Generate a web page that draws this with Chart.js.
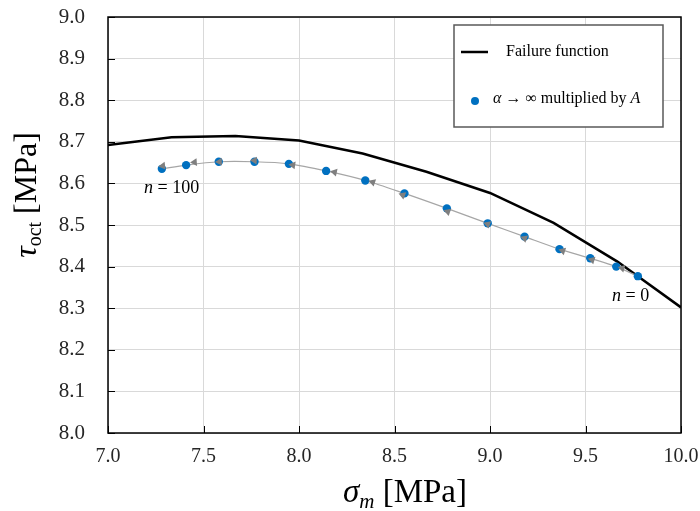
<!DOCTYPE html>
<html>
<head>
<meta charset="utf-8">
<script src="https://cdn.jsdelivr.net/npm/chart.js@4"></script>
<style>
  html, body { margin: 0; padding: 0; background: #fff; }
</style>
</head>
<body>
<canvas id="myChart" width="700" height="511"></canvas>
<script>
    // failure function (black curve)
    const failX = [7.0, 7.333, 7.667, 8.0, 8.333, 8.667, 9.0, 9.333, 9.667, 10.0]
    const failY = [8.692, 8.711, 8.714, 8.703, 8.672, 8.628, 8.577, 8.505, 8.412, 8.302]

    // alpha -> inf multiplied by A (blue points, n = 100 ... n = 0)
    const ptX = [7.282, 7.409, 7.580, 7.767, 7.947, 8.142, 8.347, 8.552, 8.774, 8.988, 9.181, 9.364, 9.525, 9.661, 9.774]
    const ptY = [8.635, 8.644, 8.652, 8.652, 8.647, 8.630, 8.607, 8.576, 8.540, 8.504, 8.472, 8.442, 8.420, 8.400, 8.377]

    // gray arrow heads along the path
    const arrX = [7.287, 7.453, 7.584, 7.767, 7.968, 8.186, 8.386, 8.543, 8.779, 8.988, 9.181, 9.381, 9.535, 9.692]
    const arrY = [8.642, 8.651, 8.652, 8.655, 8.644, 8.627, 8.603, 8.572, 8.532, 8.502, 8.468, 8.438, 8.416, 8.396]

    const xMin = 7, xMax = 10, xStep = 0.5
    const yMin = 8, yMax = 9, yStep = 0.1

    const serif = "'Liberation Serif', 'DejaVu Serif', serif"
    const toXY = (xs, ys) => xs.map((v, i) => ({x: v, y: ys[i]}))

    // arrow heads point along the path, toward n = 100 (left)
    function arrowRotation(c) {
      const i = c.dataIndex
      const sx = c.chart.scales.x, sy = c.chart.scales.y
      const a = Math.max(i - 1, 0), b = Math.min(i + 1, arrX.length - 1)
      const dx = sx.getPixelForValue(arrX[a]) - sx.getPixelForValue(arrX[b])
      const dy = sy.getPixelForValue(arrY[a]) - sy.getPixelForValue(arrY[b])
      return Math.atan2(dy, dx) * 180 / Math.PI + 90
    }

    function drawParts(ctx, parts, x, y) {
      // parts: [text, font, dy]
      let cx = x
      parts.forEach(p => {
        ctx.font = p[1]
        ctx.fillText(p[0], cx, y + (p[2] || 0))
        cx += ctx.measureText(p[0]).width
      })
      return cx - x
    }
    function partsWidth(ctx, parts) {
      let w = 0
      parts.forEach(p => { ctx.font = p[1]; w += ctx.measureText(p[0]).width })
      return w
    }

    const decor = {
      id: 'decor',
      afterDraw(chart) {
        const ctx = chart.ctx
        const a = chart.chartArea
        const sx = chart.scales.x, sy = chart.scales.y
        ctx.save()

        // frame
        ctx.strokeStyle = '#000'
        ctx.lineWidth = 1.5
        ctx.strokeRect(a.left, a.top, a.right - a.left, a.bottom - a.top)

        // inner tick marks
        ctx.lineWidth = 1
        ctx.beginPath()
        sy.ticks.forEach(t => {
          const py = Math.round(sy.getPixelForValue(t.value)) + 0.5
          ctx.moveTo(a.left, py); ctx.lineTo(a.left + 7, py)
        })
        sx.ticks.forEach(t => {
          const px = Math.round(sx.getPixelForValue(t.value)) + 0.5
          ctx.moveTo(px, a.bottom); ctx.lineTo(px, a.bottom - 7)
        })
        ctx.stroke()

        // legend box
        ctx.fillStyle = '#fff'
        ctx.fillRect(454, 25, 209, 102)
        ctx.strokeStyle = '#595959'
        ctx.lineWidth = 1.5
        ctx.strokeRect(454, 25, 209, 102)
        ctx.strokeStyle = '#000'
        ctx.lineWidth = 2.5
        ctx.beginPath(); ctx.moveTo(461, 52); ctx.lineTo(488, 52); ctx.stroke()
        ctx.fillStyle = '#0070C0'
        ctx.beginPath(); ctx.arc(475, 101, 4, 0, Math.PI * 2); ctx.fill()
        ctx.fillStyle = '#000'
        ctx.textBaseline = 'middle'
        ctx.textAlign = 'left'
        drawParts(ctx, [['Failure function', '16px ' + serif]], 506, 52)
        drawParts(ctx, [
          ['α', 'italic 16px ' + serif],
          [' → ∞ multiplied by ', '16px ' + serif],
          ['A', 'italic 16px ' + serif]
        ], 493, 99)

        // n labels
        drawParts(ctx, [['n', 'italic 18px ' + serif], [' = 100', '18px ' + serif]], 144, 188)
        drawParts(ctx, [['n', 'italic 18px ' + serif], [' = 0', '18px ' + serif]], 612, 296)

        // x title
        const xt = [
          ['σ', 'italic 33px ' + serif],
          ['m', 'italic 21px ' + serif, 9],
          [' [MPa]', '33px ' + serif]
        ]
        const xw = partsWidth(ctx, xt)
        drawParts(ctx, xt, 405 - xw / 2, 493)

        // y title
        const yt = [
          ['τ', 'italic 32px ' + serif],
          ['oct', '20px ' + serif, 8],
          [' [MPa]', '32px ' + serif]
        ]
        const yw = partsWidth(ctx, yt)
        ctx.translate(28, 195)
        ctx.rotate(-Math.PI / 2)
        drawParts(ctx, yt, -yw / 2, 0)

        ctx.restore()
      }
    }

    const config = {
      type: 'scatter',
      data: {
        datasets: [
          {
            label: 'arrows',
            data: toXY(arrX, arrY),
            showLine: false,
            pointStyle: 'triangle',
            pointRadius: 4.5,
            pointRotation: arrowRotation,
            backgroundColor: '#7f7f7f',
            borderColor: '#7f7f7f',
            borderWidth: 0
          },
          {
            label: 'α → ∞ multiplied by A',
            data: toXY(ptX, ptY),
            showLine: false,
            pointRadius: 4.2,
            backgroundColor: '#0070C0',
            borderColor: '#0070C0',
            borderWidth: 0
          },
          {
            label: 'path',
            data: toXY(ptX, ptY),
            showLine: true,
            tension: 0.3,
            pointRadius: 0,
            borderColor: '#a6a6a6',
            borderWidth: 1.2
          },
          {
            label: 'Failure function',
            data: toXY(failX, failY),
            showLine: true,
            pointRadius: 0,
            borderColor: '#000',
            borderWidth: 2.5
          }
        ]
      },
      options: {
        responsive: false,
        animation: false,
        events: [],
        layout: { padding: { top: 17, right: 19, left: 0, bottom: 0 } },
        plugins: {
          legend: { display: false },
          tooltip: { enabled: false }
        },
        scales: {
          x: {
            type: 'linear',
            min: xMin, max: xMax,
            afterFit: s => { s.height = 78; s.paddingLeft = 0; s.paddingRight = 0 },
            ticks: {
              stepSize: xStep,
              padding: 12,
              maxRotation: 0,
              color: '#262626',
              font: { family: serif, size: 20 },
              callback: v => v.toFixed(1)
            },
            grid: { color: '#d9d9d9', lineWidth: 1, drawTicks: false },
            border: { display: false }
          },
          y: {
            type: 'linear',
            min: yMin, max: yMax,
            afterFit: s => { s.width = 108; s.paddingTop = 0; s.paddingBottom = 0 },
            ticks: {
              stepSize: yStep,
              padding: 23,
              color: '#262626',
              font: { family: serif, size: 21 },
              callback: v => v.toFixed(1)
            },
            grid: { color: '#d9d9d9', lineWidth: 1, drawTicks: false },
            border: { display: false }
          }
        }
      },
      plugins: [decor]
    }

    const myChart = new Chart(document.getElementById('myChart'), config)
</script>
</body>
</html>
